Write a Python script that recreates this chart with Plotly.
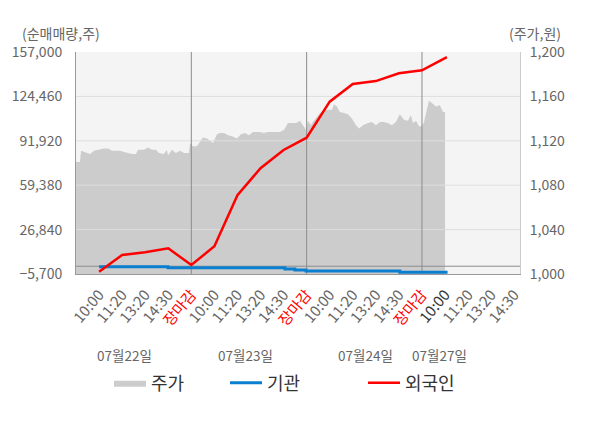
import plotly.graph_objects as go

FONT = "Noto Sans CJK KR"

# ---- x positions: tick slots (day d spans [5d, 5d+5]) ----
tick_pos = list(range(1, 20))
tick_text = ['10:00', '11:20', '13:20', '14:30', '장마감'] * 3 + ['10:00', '11:20', '13:20', '14:30']
tick_color = (['#666666'] * 4 + ['#ff0000']) * 3 + ['#333333'] + ['#666666'] * 3
day_bounds = [5, 10, 15]
X_MAX = 19.25

date_labels = ['07월22일', '07월23일', '07월24일', '07월27일']
date_pos = [2.12, 7.33, 12.53, 15.78]

# ---- price (주가, right axis) ----
price_x = [0.00, 0.17, 0.22, 0.35, 0.43, 0.61, 0.78, 1.04, 1.21, 1.39, 1.56, 1.73, 1.91,
           2.08, 2.25, 2.43, 2.60, 2.69, 2.95, 3.12, 3.29, 3.47, 3.60, 3.81, 3.94, 3.99,
           4.16, 4.33, 4.51, 4.68, 4.90, 4.94, 5.07, 5.24, 5.37, 5.50, 5.68, 5.85, 5.94,
           6.11, 6.24, 6.42, 6.59, 6.76, 6.98, 7.15, 7.33, 7.50, 7.67, 7.85, 7.98, 8.15,
           8.32, 8.50, 8.67, 8.84, 9.02, 9.19, 9.36, 9.54, 9.71, 9.84, 9.97, 10.06, 10.19,
           10.27, 10.45, 10.58, 10.75, 10.92, 11.10, 11.18, 11.31, 11.44, 11.62, 11.79,
           11.96, 12.14, 12.27, 12.44, 12.66, 12.83, 13.00, 13.18, 13.35, 13.52, 13.70,
           13.87, 14.04, 14.22, 14.39, 14.52, 14.61, 14.74, 14.87, 15.00, 15.09, 15.17,
           15.30, 15.43, 15.60, 15.78, 15.91, 16.00]
price = [1101, 1101, 1111, 1110, 1109, 1108, 1111, 1112, 1113, 1113, 1111, 1111, 1111,
         1110, 1109, 1108, 1108, 1112, 1112, 1114, 1112, 1112, 1109, 1108, 1112, 1107,
         1112, 1109, 1111, 1109, 1109, 1118, 1115, 1115, 1119, 1123, 1122, 1119, 1118,
         1126, 1127, 1127, 1125, 1124, 1122, 1126, 1127, 1125, 1128, 1128, 1128, 1127,
         1128, 1128, 1128, 1128, 1130, 1136, 1136, 1136, 1138, 1134, 1130, 1138, 1134,
         1137, 1142, 1145, 1147, 1148, 1148, 1153, 1151, 1146, 1145, 1144,
         1140, 1134, 1131, 1134, 1136, 1137, 1134, 1137, 1137, 1136, 1134,
         1137, 1144, 1139, 1138, 1143, 1136, 1138, 1133, 1133, 1137, 1145,
         1156, 1154, 1151, 1152, 1146, 1146]
price_ticks = [1000, 1040, 1080, 1120, 1160, 1200]
grid_vals = [1040, 1080, 1120, 1160]

# ---- net buying (순매매량, left axis) ----
net_ticks = [-5700, 26840, 59380, 91920, 124460, 157000]
foreign_x = [1, 2, 3, 4, 5, 6, 7, 8, 9, 10, 11, 12, 13, 14, 15, 16.08]
foreign = [-4000, 8200, 10200, 13100, 900, 14600, 52000, 71800, 85200, 94200,
           120600, 133500, 135700, 141400, 143600, 153300]
inst_x = [1, 3.99, 9.06, 9.49, 9.97, 14.04, 16.11]
inst = [-400, -1100, -2050, -2800, -3500, -4500, -4500]

fig = go.Figure()

# price area (main y axis, right side)
fig.add_trace(go.Scatter(x=price_x, y=price, mode='lines', fill='tozeroy',
                         fillcolor='#cccccc', line=dict(width=0, color='#cccccc'),
                         name='주가', legend='legend', hoverinfo='skip'))

# horizontal grid lines above the area
gx, gy = [], []
for v in grid_vals:
    gx += [0, X_MAX, None]
    gy += [v, v, None]
fig.add_trace(go.Scatter(x=gx, y=gy, mode='lines', line=dict(width=1, color='#dedede'),
                         showlegend=False, hoverinfo='skip'))

# vertical day separators
vx, vy = [], []
for b in day_bounds:
    vx += [b, b, None]
    vy += [price_ticks[0], price_ticks[-1], None]
fig.add_trace(go.Scatter(x=vx, y=vy, mode='lines', line=dict(width=1, color='#8c8c8c'),
                         showlegend=False, hoverinfo='skip'))

# zero line on net axis
fig.add_trace(go.Scatter(x=[0, X_MAX], y=[0, 0], yaxis='y2', mode='lines',
                         line=dict(width=1, color='#8c8c8c'), showlegend=False, hoverinfo='skip'))

fig.add_trace(go.Scatter(x=inst_x, y=inst, yaxis='y2', mode='lines', line_shape='hv',
                         line=dict(width=3, color='#0a7fcf'), name='기관', legend='legend2'))
fig.add_trace(go.Scatter(x=foreign_x, y=foreign, yaxis='y2', mode='lines',
                         line=dict(width=2.5, color='#ff0000'), name='외국인', legend='legend3'))

ticktext = [f'<span style="color:{c}">{t}</span>' for t, c in zip(tick_text, tick_color)]

annotations = [
    dict(text='(순매매량,주)', xref='paper', yref='paper', x=-0.034, y=1.086,
         xanchor='center', yanchor='middle', showarrow=False,
         font=dict(family=FONT, size=14, color='#666666')),
    dict(text='(주가,원)', xref='paper', yref='paper', x=1.034, y=1.086,
         xanchor='center', yanchor='middle', showarrow=False,
         font=dict(family=FONT, size=14, color='#666666')),
]
for t, p in zip(date_labels, date_pos):
    annotations.append(dict(text=t, xref='x', yref='paper', x=p, y=-0.365,
                            xanchor='center', yanchor='middle', showarrow=False,
                            font=dict(family=FONT, size=13.5, color='#666666')))

legend_common = dict(orientation='h', yanchor='middle', y=-0.491, xanchor='left',
                     font=dict(family=FONT, size=18, color='#333333'),
                     bgcolor='rgba(0,0,0,0)', itemwidth=32)

# page body has an 8px offset, so the figure is 592x420 with margins shifted by 8px
fig.update_layout(
    width=592, height=420,
    margin=dict(l=68, r=80, t=44, b=154, autoexpand=False),
    paper_bgcolor='white', plot_bgcolor='#f4f4f4',
    font=dict(family=FONT, size=14, color='#666666'),
    showlegend=True,
    legend=dict(x=0.0743, **legend_common),
    legend2=dict(x=0.3356, **legend_common),
    legend3=dict(x=0.6464, **legend_common),
    xaxis=dict(range=[0, X_MAX], tickmode='array', tickvals=tick_pos, ticktext=ticktext,
               tickangle=-50, showgrid=False, zeroline=False, showline=True,
               linecolor='#999999', ticks='', ticklabelstandoff=5, automargin=False,
               tickfont=dict(family=FONT, size=15, color='#666666')),
    yaxis=dict(range=[price_ticks[0], price_ticks[-1]], side='right', tickmode='array',
               tickvals=price_ticks, tickformat=',d', showgrid=False, zeroline=False,
               showline=True, linecolor='#cccccc', ticks='', ticklabelstandoff=6,
               automargin=False, tickfont=dict(family=FONT, size=14, color='#666666')),
    yaxis2=dict(range=[net_ticks[0], net_ticks[-1]], side='left', overlaying='y',
                tickmode='array', tickvals=net_ticks, tickformat=',d', showgrid=False,
                zeroline=False, showline=True, linecolor='#999999', ticks='',
                ticklabelstandoff=10, automargin=False,
                tickfont=dict(family=FONT, size=14, color='#666666')),
    annotations=annotations,
)

fig.write_html("out.html")
